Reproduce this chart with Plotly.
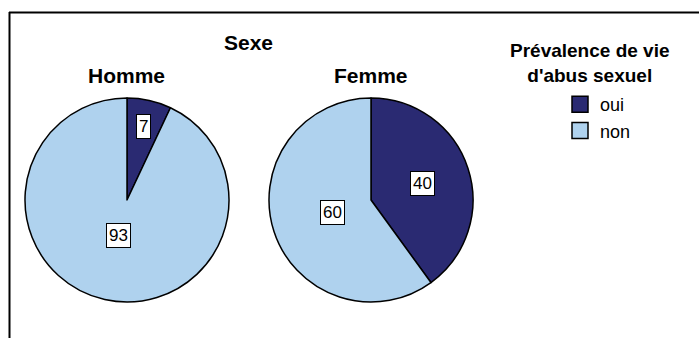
import math
import plotly.graph_objects as go

# Prevalence of lifetime sexual abuse, by sex (%)
groups = ["Homme", "Femme"]
answers = ["oui", "non"]
homme_values = [7, 93]
femme_values = [40, 60]
chart_title = "Sexe"
legend_title = "Prévalence de vie<br>d'abus sexuel"

W, H = 699, 338
FONT = "Liberation Sans, Arial, sans-serif"
colors = ["#2a2a72", "#afd2ee"]

# pie geometry in pixels (centre x, centre y from top, radius)
pies = [
    (homme_values, 127, 200, 102),
    (femme_values, 371, 200, 102),
]
# radial position of each value box, as a fraction of the radius
label_radius = [[0.74, 0.36], [0.53, 0.40]]


def text_at(px, py, text, size, **extra):
    """Centred text annotation at pixel position (px, py from top)."""
    return dict(
        x=px / W, y=1 - py / H, xref="paper", yref="paper",
        xanchor="center", yanchor="middle",
        text=text, showarrow=False,
        font=dict(family=FONT, size=size, color="black"),
        **extra,
    )


fig = go.Figure()
annotations = []

for (vals, cx, cy, r), name, fracs in zip(pies, groups, label_radius):
    fig.add_trace(go.Pie(
        labels=answers,
        values=vals,
        name=name,
        sort=False,
        direction="clockwise",
        rotation=0,
        marker=dict(colors=colors, line=dict(color="black", width=1.5)),
        textinfo="none",
        hoverinfo="label+value",
        showlegend=False,
        domain=dict(x=[(cx - r) / W, (cx + r) / W],
                    y=[(H - cy - r) / H, (H - cy + r) / H]),
    ))
    # value boxes placed at each slice's mid angle
    total = sum(vals)
    start = 0.0
    for v, f in zip(vals, fracs):
        mid = (start + v / 2) / total * 2 * math.pi
        start += v
        px = cx + f * r * math.sin(mid)
        py = cy - f * r * math.cos(mid)
        annotations.append(text_at(
            px, py, str(v), 17,
            bgcolor="white", bordercolor="black", borderwidth=1, borderpad=2,
        ))
    # group title above each pie
    annotations.append(text_at(cx, 75, f"<b>{name}</b>", 21))

# legend entries with larger square swatches (one per answer)
for answer, color in zip(answers, colors):
    fig.add_trace(go.Scatter(
        x=[None], y=[None], mode="markers", name=answer,
        marker=dict(symbol="square", size=16, color=color,
                    line=dict(color="black", width=1.5)),
        hoverinfo="skip",
    ))

annotations.append(text_at(248, 43, f"<b>{chart_title}</b>", 21))
annotations.append(text_at(590, 63, f"<b>{legend_title}</b>", 19))

fig.update_layout(
    width=W, height=H,
    margin=dict(l=0, r=0, t=0, b=0),
    paper_bgcolor="white",
    plot_bgcolor="white",
    font=dict(family=FONT, color="black"),
    annotations=annotations,
    showlegend=True,
    xaxis=dict(visible=False),
    yaxis=dict(visible=False),
    legend=dict(
        x=560 / W, y=1 - 86 / H, xanchor="left", yanchor="top",
        font=dict(family=FONT, size=18, color="black"),
        bgcolor="rgba(0,0,0,0)", borderwidth=0,
        tracegroupgap=0,
    ),
    shapes=[
        # chart frame: top and left edges
        dict(type="line", xref="paper", yref="paper",
             x0=9 / W, x1=1, y0=1 - 12.5 / H, y1=1 - 12.5 / H,
             line=dict(color="black", width=2)),
        dict(type="line", xref="paper", yref="paper",
             x0=9.5 / W, x1=9.5 / W, y0=0, y1=1 - 12 / H,
             line=dict(color="black", width=2)),
    ],
)

fig.write_html("out.html")
